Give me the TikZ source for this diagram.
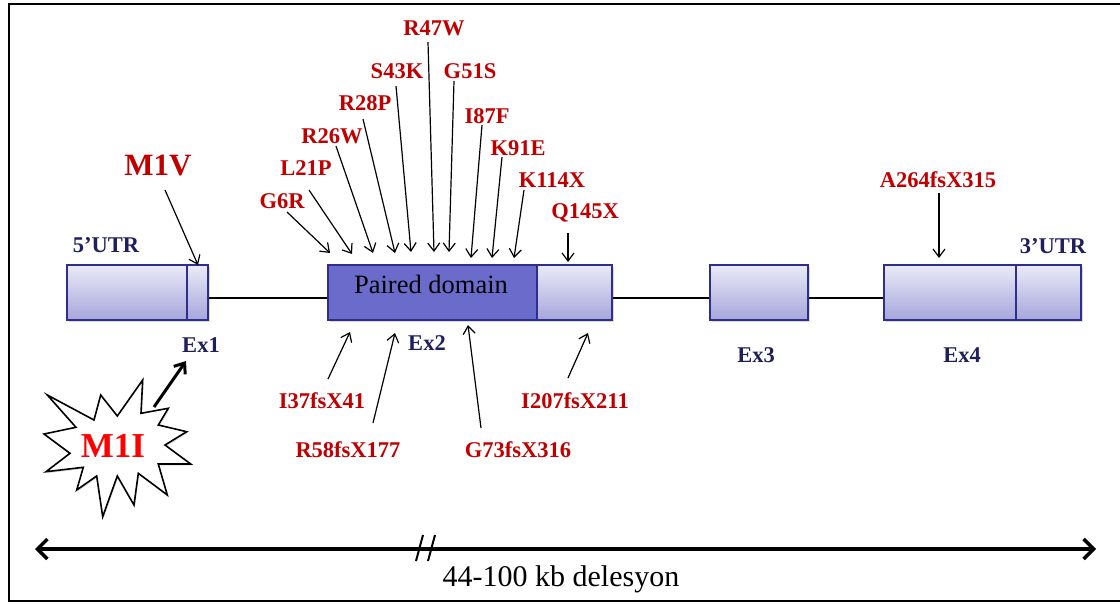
\documentclass[tikz,border=0pt]{standalone}
\usepackage{fontspec}
\setmainfont{Liberation Serif}
\usetikzlibrary{arrows.meta,shadows}
\definecolor{mred}{HTML}{C00000}
\definecolor{bred}{HTML}{FF0000}
\definecolor{navy}{HTML}{1F1F5C}
\definecolor{exborder}{HTML}{2E2E8F}
\definecolor{extop}{HTML}{EAEAF7}
\definecolor{exbot}{HTML}{A6A6DC}
\definecolor{pdfill}{HTML}{6B6BCC}
\newcommand\mutarr[5]{%
  \node[mut] (#1) at (#2) {#3};
  \coordinate (#1s) at (#4);
  \coordinate (#1e) at (#5);
  \draw[ptr] (#1s) -- (#1e);}
\begin{document}
\begin{tikzpicture}[x=1pt,y=-1pt,
 mut/.style={font=\fontsize{22.5}{24}\selectfont\bfseries, text=mred, inner sep=0pt, anchor=base},
 exlab/.style={font=\fontsize{22.5}{24}\selectfont\bfseries, text=navy, inner sep=0pt, anchor=base},
 ptr/.style={-{Straight Barb[length=8pt,width=12pt]}, line width=1.2pt},
 boxbase/.style={draw=exborder, line width=1.8pt, minimum height=55pt, inner sep=0pt,
   drop shadow={opacity=0.3, shadow xshift=1.5pt, shadow yshift=-2pt}},
 exon/.style={boxbase, top color=extop, bottom color=exbot},
 pdbox/.style={boxbase, fill=pdfill},
 intron/.style={line width=1.5pt},
]
\useasboundingbox (0,0) rectangle (1120,603);
\draw[line width=2pt] (1130,4) -- (9,4) -- (9,601) -- (1130,601);

% exon boxes
\node[exon, minimum width=120pt] (utr5) at (127,292.5) {};
\node[exon, minimum width=21pt] (ex1) at (197.5,292.5) {};
\node[pdbox, minimum width=209pt] (pd) at (432.5,292.5) {};
\node[exon, minimum width=75pt] (ex2b) at (574.5,292.5) {};
\node[exon, minimum width=98pt] (ex3) at (759,292.5) {};
\node[exon, minimum width=132pt] (ex4) at (950,292.5) {};
\node[exon, minimum width=65pt] (utr3) at (1048.5,292.5) {};
\node[font=\fontsize{26.5}{28}\selectfont, anchor=base, inner sep=0pt] (pdtext) at (431,293) {Paired domain};

% introns
\draw[intron] ([yshift=-5.5pt]ex1.east) -- ([yshift=-5.5pt]pd.west);
\draw[intron] ([yshift=-5.5pt]ex2b.east) -- ([yshift=-5.5pt]ex3.west);
\draw[intron] ([yshift=-5.5pt]ex3.east) -- ([yshift=-5.5pt]ex4.west);

% region labels
\node[exlab] (l5utr) at (106,252) {5’UTR};
\node[exlab] (l3utr) at (1053,253) {3’UTR};
\node[exlab] (lex1) at (201,352) {Ex1};
\node[exlab] (lex2) at (427,350) {Ex2};
\node[exlab] (lex3) at (756,362) {Ex3};
\node[exlab] (lex4) at (962,362) {Ex4};

% mutations above
\node[mut, font=\fontsize{31}{32}\selectfont\bfseries] (m1v) at (158,175) {M1V};
\coordinate (m1vs) at (165,190);
\coordinate (m1ve) at (198,265);
\draw[ptr] (m1vs) -- (m1ve);
\mutarr{g6r}{282,208}{G6R}{287,212}{330,253}
\mutarr{l21p}{306,175}{L21P}{309,190}{352,254}
\mutarr{r26w}{332,143}{R26W}{336,146}{373,253}
\mutarr{r28p}{365,110}{R28P}{363,119}{395,253}
\mutarr{s43k}{397,78}{S43K}{396,86}{411,252}
\mutarr{r47w}{434,35}{R47W}{428,42}{434,252}
\mutarr{g51s}{470,78}{G51S}{454,81}{449,252}
\mutarr{i87f}{487,123}{I87F}{482,125}{471,258}
\mutarr{k91e}{518,155}{K91E}{502,157}{492,258}
\mutarr{k114x}{552,187}{K114X}{524,190}{514,258}
\mutarr{q145x}{585,218}{Q145X}{568,233}{568,262}
\mutarr{a264}{938,187}{A264fsX315}{939,193}{939,258}

% mutations below
\mutarr{i37}{322,408}{I37fsX41}{328,379}{350,332}
\mutarr{r58}{348,457}{R58fsX177}{373,423}{395,333}
\mutarr{g73}{518,457}{G73fsX316}{481,428}{468,325}
\mutarr{i207}{575,408}{I207fsX211}{568,378}{588,333}

% M1I starburst
\draw[line width=1.6pt, fill=white, line join=miter,
  drop shadow={opacity=0.25, shadow xshift=1pt, shadow yshift=-1.5pt}]
  (47.3,395) -- (94,420) -- (100.7,395) -- (117.3,416) -- (142.7,380) -- (141,413.3)
  -- (168.3,408.3) -- (158.3,425) -- (186.7,431.7) -- (165,445) -- (190.7,464)
  -- (158.3,464) -- (167.3,495) -- (138.3,473.3) -- (134,505) -- (117.3,476)
  -- (102.7,516.7) -- (96.7,476) -- (76.7,490) -- (83.3,467.3) -- (46,471.7)
  -- (70,453.3) -- (44,434) -- (76,427.3) -- cycle;
\node[font=\fontsize{35}{36}\selectfont\bfseries, text=bred, anchor=base, inner sep=0pt] (m1i) at (113,457) {M1I};
\coordinate (m1is) at (154,407);
\coordinate (m1ie) at (186,361);
\draw[-{Straight Barb[length=9pt,width=14pt]}, line width=3pt] (m1is) -- (m1ie);

% deletion span
\coordinate (dl) at (35,549);
\coordinate (dr) at (1096,549);
\draw[{Straight Barb[length=10pt,width=20pt]}-{Straight Barb[length=10pt,width=20pt]}, line width=3.5pt] (dl) -- (dr);
\draw[line width=2pt] (416,561) -- (423,535);
\draw[line width=2pt] (428,561) -- (435,535);
\node[font=\fontsize{30}{32}\selectfont, anchor=base, inner sep=0pt] (del) at (561,586) {44-100 kb delesyon};
\end{tikzpicture}
\end{document}
